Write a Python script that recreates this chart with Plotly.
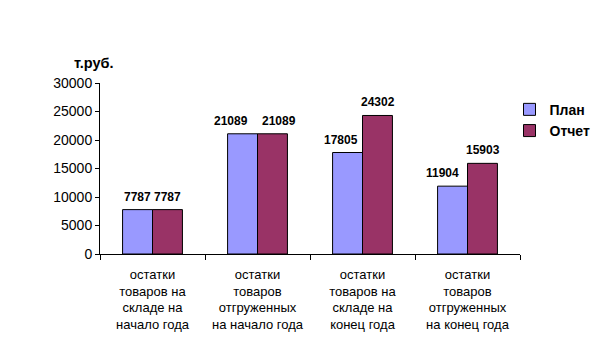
import plotly.graph_objects as go

categories = [
    "остатки<br>товаров на<br>складе на<br>начало года",
    "остатки<br>товаров<br>отгруженных<br>на начало года",
    "остатки<br>товаров на<br>складе на<br>конец года",
    "остатки<br>товаров<br>отгруженных<br>на конец года",
]
plan = [7787, 21089, 17805, 11904]
report = [7787, 21089, 24302, 15903]

# label nudges (pixels) to mimic the original's placement of overlapping labels
plan_nudge = [0, -12, -7, -10]
report_nudge = [0, 6, 0, 0]

font = "Liberation Sans, Arial, sans-serif"
series = [("План", plan, "#9999FF", -15, plan_nudge),
          ("Отчет", report, "#993366", 15, report_nudge)]

fig = go.Figure()
annotations = []
for name, vals, color, off, nudge in series:
    fig.add_trace(go.Bar(
        x=categories, y=vals, name=name,
        marker=dict(color=color, line=dict(color="black", width=1)),
        hoverinfo="x+y",
    ))
    for c, v, n in zip(categories, vals, nudge):
        annotations.append(dict(
            x=c, y=v, xref="x", yref="y", text=f"<b>{v}</b>", showarrow=False,
            xanchor="center", yanchor="bottom", xshift=off + n, yshift=4,
            font=dict(family=font, size=12, color="black"),
        ))

annotations.append(dict(
    text="<b>т.руб.</b>", x=-0.014, y=1.117, xref="paper", yref="paper",
    xanchor="center", yanchor="middle", showarrow=False,
    font=dict(family=font, size=14.5, color="black"),
))

fig.update_layout(
    width=612, height=341,
    margin=dict(l=100, r=92, t=83, b=87),
    paper_bgcolor="white", plot_bgcolor="white",
    barmode="group", bargap=0.43, bargroupgap=0,
    font=dict(family=font, size=13, color="black"),
    showlegend=True,
    legend=dict(
        x=0.975, y=0.937, xanchor="left", yanchor="top",
        font=dict(family=font, size=14, color="black", weight="bold"),
        itemwidth=30,
        bgcolor="rgba(0,0,0,0)",
    ),
    annotations=annotations,
)

fig.update_xaxes(
    type="category", showline=True, linecolor="black", linewidth=1,
    ticks="outside", tickson="boundaries", ticklen=5, tickcolor="black",
    ticklabelstandoff=8, automargin=False,
    showgrid=False, tickfont=dict(family=font, size=13, color="black"),
)
fig.update_yaxes(
    range=[0, 30000], dtick=5000, tickformat="d", showline=True,
    linecolor="black", linewidth=1, automargin=False,
    ticks="outside", ticklen=4, tickcolor="black", showgrid=False, zeroline=False,
    tickfont=dict(family=font, size=14, color="black"),
)

fig.write_html("out.html")
